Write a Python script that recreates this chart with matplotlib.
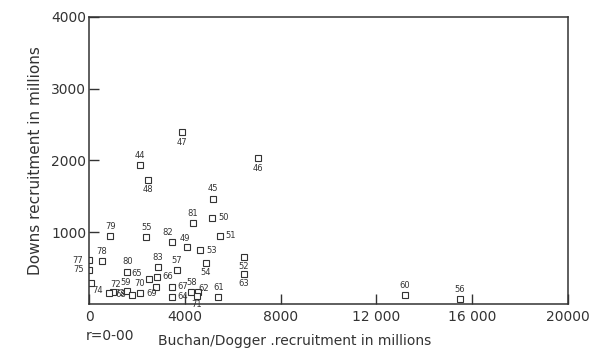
import matplotlib
matplotlib.use("Agg")
import matplotlib.pyplot as plt

# Year-class recruitment (millions): Buchan/Dogger (x) against Downs (y)
years = ["44", "45", "46", "47", "48", "49", "50", "51", "52", "53",
         "54", "55", "56", "57", "58", "59", "60", "61", "62", "63",
         "64", "65", "66", "67", "68", "69", "70", "71", "72", "73",
         "74", "75", "77", "78", "79", "80", "81", "82", "83"]
buchan_dogger = [2130, 5190, 7070, 3870, 2480, 4110, 5140, 5470, 6470, 4650,
                 4890, 2400, 15490, 3660, 4280, 1600, 13190, 5400, 4550, 6470,
                 3450, 2520, 2830, 3450, 1800, 2800, 2130, 4500, 1000, 830,
                 80, 20, 0, 540, 890, 1600, 4330, 3480, 2870]
downs = [1930, 1470, 2030, 2390, 1730, 790, 1200, 950, 660, 750,
         570, 935, 70, 470, 170, 180, 125, 100, 160, 420,
         100, 350, 370, 240, 130, 240, 150, 110, 160, 150,
         290, 480, 610, 600, 948, 450, 1130, 860, 515]

x_ticks = [0, 4000, 8000, 12000, 16000, 20000]
x_tick_labels = ["0", "4000", "8000", "12 000", "16 000", "20000"]
y_ticks = [1000, 2000, 3000, 4000]
y_tick_labels = ["1000", "2000", "3000", "4000"]

# label placement around each square (offset in points)
A, B, R, L = (0, 7), (0, -7), (8, 0), (-8, 0)
label_offset = {
    "44": A, "45": A, "46": B, "47": B, "48": B, "49": (-2, 6), "50": R,
    "51": R, "52": B, "53": R, "54": B, "55": A, "56": A, "57": A,
    "58": A, "59": (-1, 6), "60": A, "61": A, "62": (4, 3), "63": B,
    "64": R, "65": (-9, 4), "66": (8, 1), "67": (8, 0), "68": L, "69": (-3, -5),
    "70": A, "71": (0, -6), "72": (2, 6), "73": R, "74": (5, -5),
    "75": L, "77": L, "78": A, "79": A, "80": A, "81": A, "82": (-3, 7),
    "83": A,
}

ink = "#333333"
plt.rcParams["font.family"] = ["DejaVu Sans"]

fig = plt.figure(figsize=(5.91, 3.51), dpi=100)
ax = fig.add_axes([0.1506, 0.134, 0.8104, 0.8176])

ax.plot(buchan_dogger, downs, linestyle="none", marker="s", markersize=5,
        markerfacecolor="white", markeredgecolor=ink, markeredgewidth=0.8)

for yr, xv, yv in zip(years, buchan_dogger, downs):
    ax.annotate(yr, (xv, yv), xytext=label_offset[yr], textcoords="offset points",
                ha="center", va="center", fontsize=6, color=ink)

ax.set_xlim(0, 20000)
ax.set_ylim(0, 4000)
ax.set_xticks(x_ticks)
ax.set_xticklabels(x_tick_labels)
ax.set_yticks(y_ticks)
ax.set_yticklabels(y_tick_labels)
ax.tick_params(direction="in", length=7, width=1, colors=ink, labelsize=10,
               pad=4)
ax.tick_params(axis="y", pad=2)
for side in ax.spines.values():
    side.set_color(ink)
    side.set_linewidth(1.1)

ax.set_ylabel("Downs recruitment in millions", fontsize=11, color=ink,
              labelpad=6)
ax.set_xlabel("Buchan/Dogger .recruitment in millions", fontsize=10, color=ink,
              labelpad=5)
ax.xaxis.set_label_coords(0.43, -0.105)
fig.text(0.145, 0.03, "r=0-00", fontsize=10, color=ink, va="baseline")

fig.savefig("out.png", dpi=100)
